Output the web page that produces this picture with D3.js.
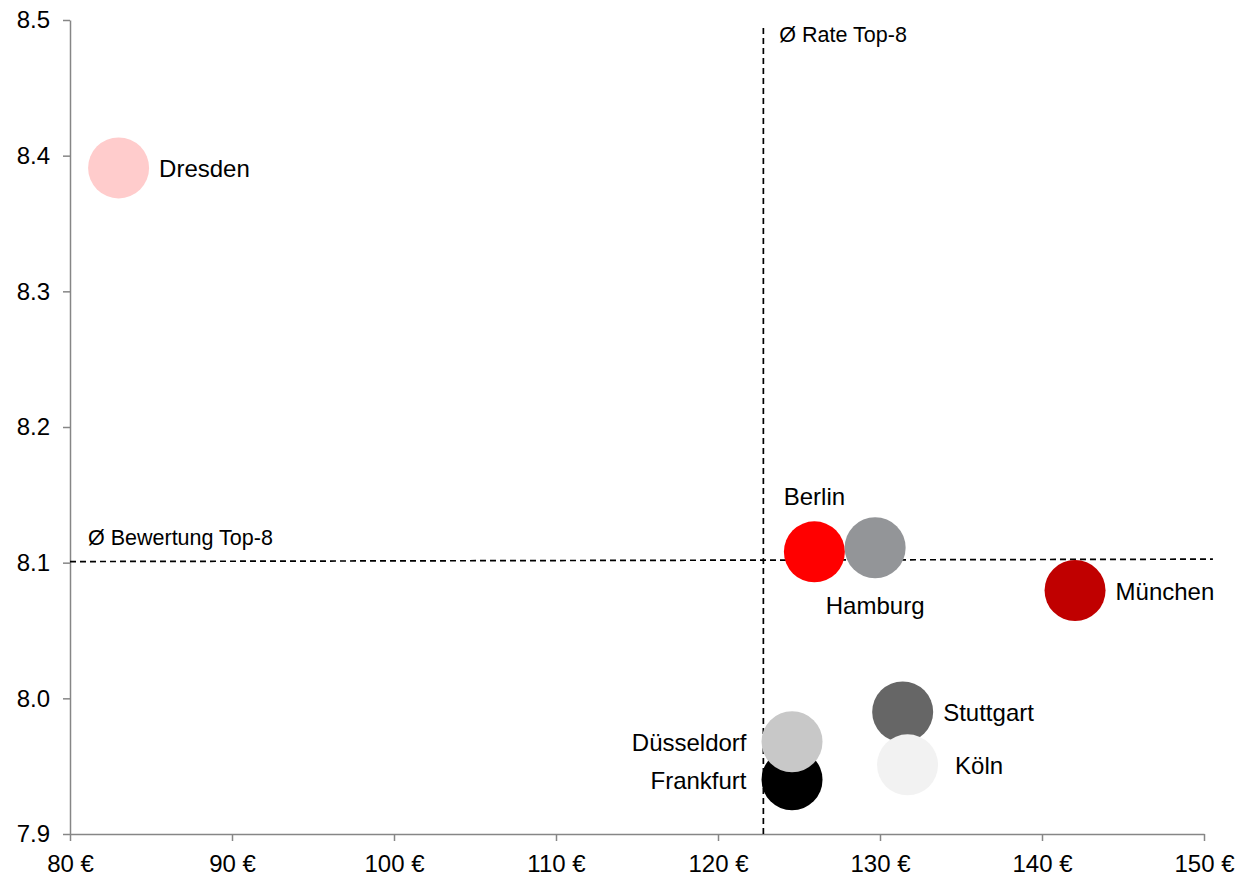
<!DOCTYPE html>
<html>
<head>
<meta charset="utf-8">
<script src="https://cdn.jsdelivr.net/npm/d3@7"></script>
<style>
  body { margin: 0; background: #fff; }
  svg text { font-family: "Liberation Sans", Arial, sans-serif; fill: #000; }
</style>
</head>
<body>
<div id="chart"></div>
<script>
// data
var cities = ["Frankfurt", "Düsseldorf", "Stuttgart", "Köln", "Berlin", "Hamburg", "München", "Dresden"];
var rates = [124.57, 124.57, 131.4, 131.7, 125.95, 129.7, 142.04, 83.0];
var ratings = [7.940, 7.968, 7.990, 7.951, 8.108, 8.111, 8.0795, 8.391];
var colors = ["#000000", "#c8c8c8", "#666666", "#f2f2f2", "#ff0000", "#939598", "#c00000", "#ffcccc"];

var xTicks = [80, 90, 100, 110, 120, 130, 140, 150];
var yTicks = [7.9, 8.0, 8.1, 8.2, 8.3, 8.4, 8.5];

// average reference lines
var avgRate = 122.8;
var avgRateTop = 8.496;
var avgRatingX = [80, 150.55];
var avgRatingY = [8.1008, 8.1026];

var svgWidth = 1255;
var svgHeight = 876;
var margin = { top: 20, right: 51, bottom: 42, left: 70 };
var chartWidth = svgWidth - margin.left - margin.right;
var chartHeight = svgHeight - margin.top - margin.bottom;
var r = 30.5;

var svg = d3.select("#chart")
  .append("svg")
  .attr("width", svgWidth)
  .attr("height", svgHeight);

var chartGroup = svg.append("g")
  .attr("transform", `translate(${margin.left}, ${margin.top})`);

var xScale = d3.scaleLinear().domain([80, 150]).range([0, chartWidth]);
var yScale = d3.scaleLinear().domain([7.9, 8.5]).range([chartHeight, 0]);

// axes
var bottomAxis = d3.axisBottom(xScale)
  .tickValues(xTicks)
  .tickSizeInner(7)
  .tickSizeOuter(0)
  .tickPadding(9)
  .tickFormat(d => d + " €");

var leftAxis = d3.axisLeft(yScale)
  .tickValues(yTicks)
  .tickSizeInner(7)
  .tickSizeOuter(0)
  .tickPadding(13)
  .tickFormat(d3.format(".1f"));

var xAxisG = chartGroup.append("g")
  .attr("transform", `translate(0, ${chartHeight})`)
  .call(bottomAxis);

var yAxisG = chartGroup.append("g")
  .call(leftAxis);

[xAxisG, yAxisG].forEach(function(g) {
  g.select(".domain").attr("stroke", "#868686").attr("stroke-width", 1.5);
  g.selectAll(".tick line").attr("stroke", "#868686").attr("stroke-width", 1.5);
  g.selectAll(".tick text")
    .style("font-size", "24px")
    .style("font-family", "'Liberation Sans', Arial, sans-serif")
    .attr("fill", "#000");
});
xAxisG.selectAll(".tick text").attr("dy", "0.9em");

// dashed average lines
chartGroup.append("line")
  .attr("x1", xScale(avgRate))
  .attr("x2", xScale(avgRate))
  .attr("y1", yScale(7.9))
  .attr("y2", yScale(avgRateTop))
  .attr("stroke", "#000")
  .attr("stroke-width", 1.7)
  .attr("stroke-dasharray", "6,4");

chartGroup.append("line")
  .attr("x1", xScale(avgRatingX[0]))
  .attr("x2", xScale(avgRatingX[1]))
  .attr("y1", yScale(avgRatingY[0]))
  .attr("y2", yScale(avgRatingY[1]))
  .attr("stroke", "#000")
  .attr("stroke-width", 1.7)
  .attr("stroke-dasharray", "6,4");

chartGroup.append("text")
  .attr("x", xScale(avgRate) + 16)
  .attr("y", yScale(avgRateTop) + 17)
  .style("font-size", "21.5px")
  .text("Ø Rate Top-8");

chartGroup.append("text")
  .attr("x", xScale(avgRatingX[0]) + 18)
  .attr("y", yScale(avgRatingY[0]) - 17)
  .style("font-size", "21.5px")
  .text("Ø Bewertung Top-8");

// bubbles
var points = cities.map((c, i) => ({ city: c, rate: rates[i], rating: ratings[i], color: colors[i] }));

chartGroup.append("g")
  .selectAll("circle")
  .data(points)
  .enter()
  .append("circle")
  .attr("cx", d => xScale(d.rate))
  .attr("cy", d => yScale(d.rating))
  .attr("r", r)
  .style("fill", d => d.color);

// where each label sits relative to its bubble
var labelSide = {
  "Frankfurt": "left", "Düsseldorf": "left", "Stuttgart": "right", "Köln": "right",
  "Berlin": "above", "Hamburg": "below", "München": "right", "Dresden": "right"
};

chartGroup.append("g")
  .selectAll("text")
  .data(points)
  .enter()
  .append("text")
  .style("font-size", "24px")
  .attr("dominant-baseline", "central")
  .attr("text-anchor", d => {
    var s = labelSide[d.city];
    return s === "left" ? "end" : s === "right" ? "start" : "middle";
  })
  .attr("x", d => {
    var s = labelSide[d.city];
    var cx = xScale(d.rate);
    if (s === "left") return cx - r - 15;
    if (s === "right") return cx + r + (d.city === "Köln" ? 17 : 10);
    return cx;
  })
  .attr("y", d => {
    var s = labelSide[d.city];
    var cy = yScale(d.rating);
    if (s === "above") return cy - 55;
    if (s === "below") return cy + 58;
    return cy + 1;
  })
  .text(d => d.city);
</script>
</body>
</html>
